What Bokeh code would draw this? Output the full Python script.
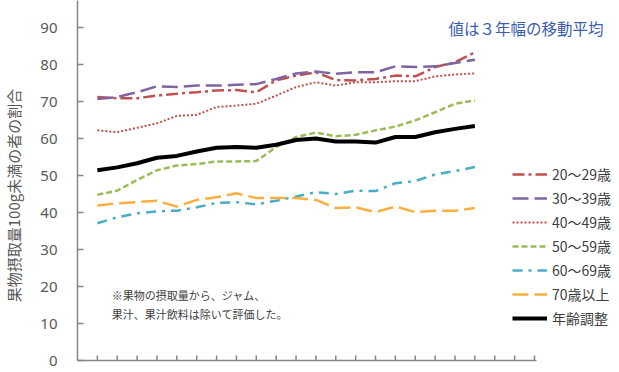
from bokeh.plotting import figure
from bokeh.models import Range1d, Legend, LegendItem, FixedTicker, Label, ColumnDataSource
from bokeh.embed import file_html
from bokeh.resources import INLINE

# x positions (year index along the category axis)
x_idx = list(range(1, 21))
axis_ticks = list(range(1, 24))
y_ticks = [0, 10, 20, 30, 40, 50, 60, 70, 80, 90]

series_names = ["20〜29歳", "30〜39歳", "40〜49歳", "50〜59歳", "60〜69歳", "70歳以上", "年齢調整"]

s20 = [71.2, 70.9, 70.9, 71.6, 72.1, 72.5, 73.0, 73.1, 72.5, 75.7,
       77.0, 77.9, 75.8, 75.7, 76.1, 77.0, 76.8, 79.3, 80.6, 83.3]
s30 = [70.7, 71.2, 72.5, 74.1, 73.9, 74.3, 74.3, 74.5, 74.7, 76.1,
       77.6, 78.1, 77.5, 77.9, 77.9, 79.5, 79.3, 79.5, 80.4, 81.3]
s40 = [62.2, 61.7, 62.9, 64.1, 66.1, 66.4, 68.5, 68.9, 69.4, 71.6,
       73.9, 75.2, 74.3, 75.2, 75.2, 75.5, 75.5, 76.8, 77.3, 77.6]
s50 = [44.8, 45.9, 48.8, 51.4, 52.7, 53.1, 53.8, 53.8, 53.9, 57.7,
       60.4, 61.6, 60.6, 61.0, 62.2, 63.2, 64.9, 67.1, 69.4, 70.3]
s60 = [37.1, 38.7, 39.8, 40.3, 40.5, 41.4, 42.6, 42.8, 42.2, 43.2,
       44.3, 45.5, 45.0, 45.9, 45.8, 47.9, 48.5, 50.3, 51.2, 52.3]
s70 = [41.9, 42.5, 42.8, 43.2, 41.6, 43.4, 44.1, 45.2, 43.9, 43.9,
       43.9, 43.4, 41.2, 41.4, 40.1, 41.6, 40.1, 40.5, 40.5, 41.2]
sadj = [51.4, 52.2, 53.3, 54.8, 55.3, 56.5, 57.5, 57.7, 57.5, 58.3,
        59.6, 60.0, 59.2, 59.2, 58.9, 60.4, 60.4, 61.7, 62.6, 63.4]

styles = [
    dict(color="#C0504D", width=2.5, dash="12 4 3 4"),
    dict(color="#8064A2", width=2.5, dash="16 6"),
    dict(color="#C0504D", width=2.0, dash="2 2"),
    dict(color="#9BBB59", width=2.5, dash="6 3"),
    dict(color="#4BACC6", width=2.5, dash="10 6 3 6"),
    dict(color="#F9B041", width=2.5, dash="16 6"),
    dict(color="#000000", width=4.0, dash="solid"),
]
all_series = [s20, s30, s40, s50, s60, s70, sadj]

PX_PER_UNIT = 3.7  # vertical scale of the frame (px per percent)

p = figure(width=619, height=372, output_backend="svg", toolbar_location=None,
           x_range=Range1d(0, 27.28), y_range=Range1d(0, 97.3),
           min_border_left=73, min_border_right=0, min_border_top=0, min_border_bottom=12)
p.outline_line_color = None
p.grid.visible = False
p.background_fill_color = "white"

items = []
for name, ys, st in zip(series_names, all_series, styles):
    src = ColumnDataSource(dict(x=x_idx, y=ys))
    r = p.line("x", "y", source=src, line_color=st["color"], line_width=st["width"],
               line_dash=st["dash"])
    items.append(LegendItem(label=name, renderers=[r]))

ax_col = "#868686"
# category tick marks on the x axis (pointing inward)
p.segment(x0=axis_ticks, x1=axis_ticks, y0=[0] * len(axis_ticks),
          y1=[5 / PX_PER_UNIT] * len(axis_ticks), line_color=ax_col, line_width=1.5)

# axes
p.yaxis.ticker = FixedTicker(ticks=y_ticks)
p.yaxis.axis_line_color = ax_col
p.yaxis.axis_line_width = 1.5
p.yaxis.major_tick_line_color = ax_col
p.yaxis.major_tick_line_width = 1.5
p.yaxis.major_tick_in = 6
p.yaxis.major_tick_out = 0
p.yaxis.minor_tick_line_color = None
p.yaxis.major_label_standoff = 20
p.yaxis.major_label_text_font = "Noto Sans"
p.yaxis.major_label_text_font_size = "15px"
p.yaxis.major_label_text_color = "#595959"
p.yaxis.axis_label = "果物摂取量100g未満の者の割合　　"
p.yaxis.axis_label_standoff = 13
p.yaxis.axis_label_text_font = "Noto Sans CJK JP"
p.yaxis.axis_label_text_font_size = "15px"
p.yaxis.axis_label_text_font_style = "normal"
p.yaxis.axis_label_text_color = "#595959"

p.xaxis.ticker = FixedTicker(ticks=[])
p.xaxis.bounds = (0, 23.08)
p.xaxis.axis_line_color = ax_col
p.xaxis.axis_line_width = 1.5
p.xaxis.major_tick_line_color = None
p.xaxis.minor_tick_line_color = None

legend = Legend(items=items, location=(435, 30), padding=0, margin=0, spacing=0,
                glyph_height=24, label_height=24, glyph_width=35, label_standoff=5,
                background_fill_alpha=0, border_line_color=None,
                label_text_font="Noto Sans CJK JP", label_text_font_size="14px",
                label_text_color="#404040")
p.add_layout(legend)

p.add_layout(Label(x=18.67, y=90, text="値は３年幅の移動平均",
                   text_align="left", text_baseline="middle",
                   text_font="Noto Sans CJK JP", text_font_size="15.5px",
                   text_color="#3C5DB0"))

p.add_layout(Label(x=1.73, y=17.6, text="※果物の摂取量から、ジャム、",
                   text_align="left", text_baseline="middle",
                   text_font="Noto Sans CJK JP", text_font_size="11px",
                   text_color="#404040"))
p.add_layout(Label(x=1.73, y=12.7, text="果汁、果汁飲料は除いて評価した。",
                   text_align="left", text_baseline="middle",
                   text_font="Noto Sans CJK JP", text_font_size="11px",
                   text_color="#404040"))

open("out.html", "w").write(file_html(p, INLINE))
